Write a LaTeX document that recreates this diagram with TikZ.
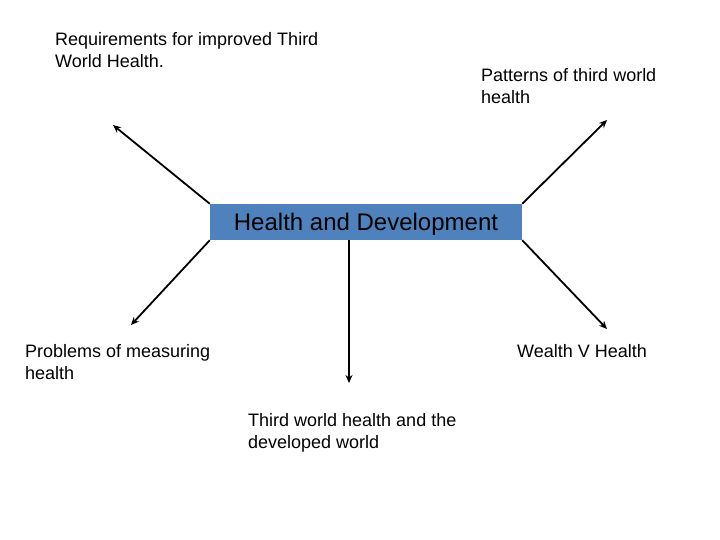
\documentclass[tikz,border=0pt]{standalone}
\usepackage{fontspec}
\setmainfont{Liberation Sans}
\usetikzlibrary{arrows.meta}
\definecolor{boxblue}{RGB}{79,129,189}
\tikzset{
	topic/.style={anchor=west, align=left, inner sep=0pt, font=\fontsize{18}{22}\selectfont},
	link/.style={-{Stealth[length=8pt,width=7pt]}, line width=1.8pt}
}
\begin{document}
\begin{tikzpicture}[x=1pt, y=-1pt]
						\useasboundingbox (0,0) rectangle (720,540);
						\node[fill=boxblue, minimum width=312pt, minimum height=36pt, inner sep=0pt, text height=17pt, text depth=1pt, font=\fontsize{24}{28}\selectfont] (hd) at (366,222) {Health and Development};
						\node[topic] (req) at (55,50) {Requirements for improved Third\\World Health.};
						\node[topic] (pat) at (481,86) {Patterns of third world\\health};
						\node[topic] (prob) at (25,362) {Problems of measuring\\health};
						\node[topic] (wealth) at (517,351) {Wealth V Health};
						\node[topic] (dev) at (248,433) {Third world health and the\\developed world};
						\coordinate (reqend) at (113,125);
						\coordinate (patend) at (607,120);
						\coordinate (probend) at (131,325);
						\coordinate (wealthend) at (607,329);
						\coordinate (devstart) at (349,240);
						\coordinate (devend) at (349,383);
						\draw[link] (hd.north west) -- (reqend);
						\draw[link] (hd.north east) -- (patend);
						\draw[link] (hd.south west) -- (probend);
						\draw[link] (hd.south east) -- (wealthend);
						\draw[link] (devstart) -- (devend);
				\end{tikzpicture}
\end{document}
